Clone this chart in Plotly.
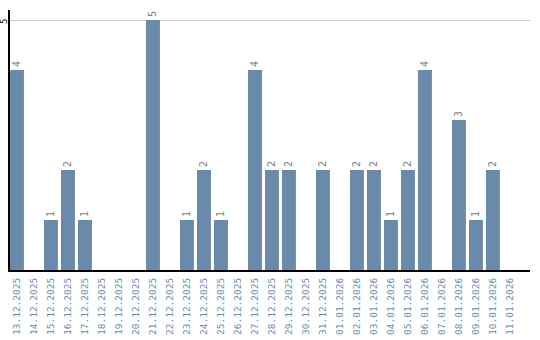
import plotly.graph_objects as go

dates = ["13.12.2025","14.12.2025","15.12.2025","16.12.2025","17.12.2025","18.12.2025",
         "19.12.2025","20.12.2025","21.12.2025","22.12.2025","23.12.2025","24.12.2025",
         "25.12.2025","26.12.2025","27.12.2025","28.12.2025","29.12.2025","30.12.2025",
         "31.12.2025","01.01.2026","02.01.2026","03.01.2026","04.01.2026","05.01.2026",
         "06.01.2026","07.01.2026","08.01.2026","09.01.2026","10.01.2026","11.01.2026"]
counts = [4,0,1,2,1,0,0,0,5,0,1,2,1,0,4,2,2,0,2,0,2,2,1,2,4,0,3,1,2,0]
labels = [str(v) if v > 0 else "" for v in counts]
y_ticks = [5]

fig = go.Figure(go.Bar(
    x=list(range(len(dates))), y=counts, text=labels,
    textposition="outside", textangle=-90, cliponaxis=False,
    textfont=dict(family="DejaVu Sans Mono", size=10, color="#6e7f92"),
    marker=dict(color="#6a8aab", line=dict(width=0)),
    hoverinfo="skip",
))
for t in y_ticks:
    fig.add_annotation(x=0, xref="paper", y=t, yref="y", text=str(t), showarrow=False,
                       textangle=-90, xanchor="center", yanchor="middle",
                       xshift=-6, yshift=-2,
                       font=dict(family="DejaVu Sans Mono", size=9, color="black"))
fig.update_layout(
    width=540, height=340, margin=dict(l=10, r=10, t=10, b=70),
    paper_bgcolor="white", plot_bgcolor="white", showlegend=False,
    bargap=0.18,
    xaxis=dict(tickmode="array", tickvals=list(range(len(dates))), ticktext=dates,
               tickangle=-90, range=[-0.41, 30.18], showgrid=False, zeroline=False,
               automargin=False, ticklabelstandoff=2,
               showline=True, linecolor="black", linewidth=2, ticks="",
               tickfont=dict(family="DejaVu Sans Mono", size=9.5, color="#6a8aab")),
    yaxis=dict(range=[0, 5.2], tickvals=y_ticks, showticklabels=False,
               showgrid=True, gridcolor="#cccccc", gridwidth=1, zeroline=False,
               automargin=False,
               showline=True, linecolor="black", linewidth=2, ticks=""),
)
fig.write_html("out.html")
